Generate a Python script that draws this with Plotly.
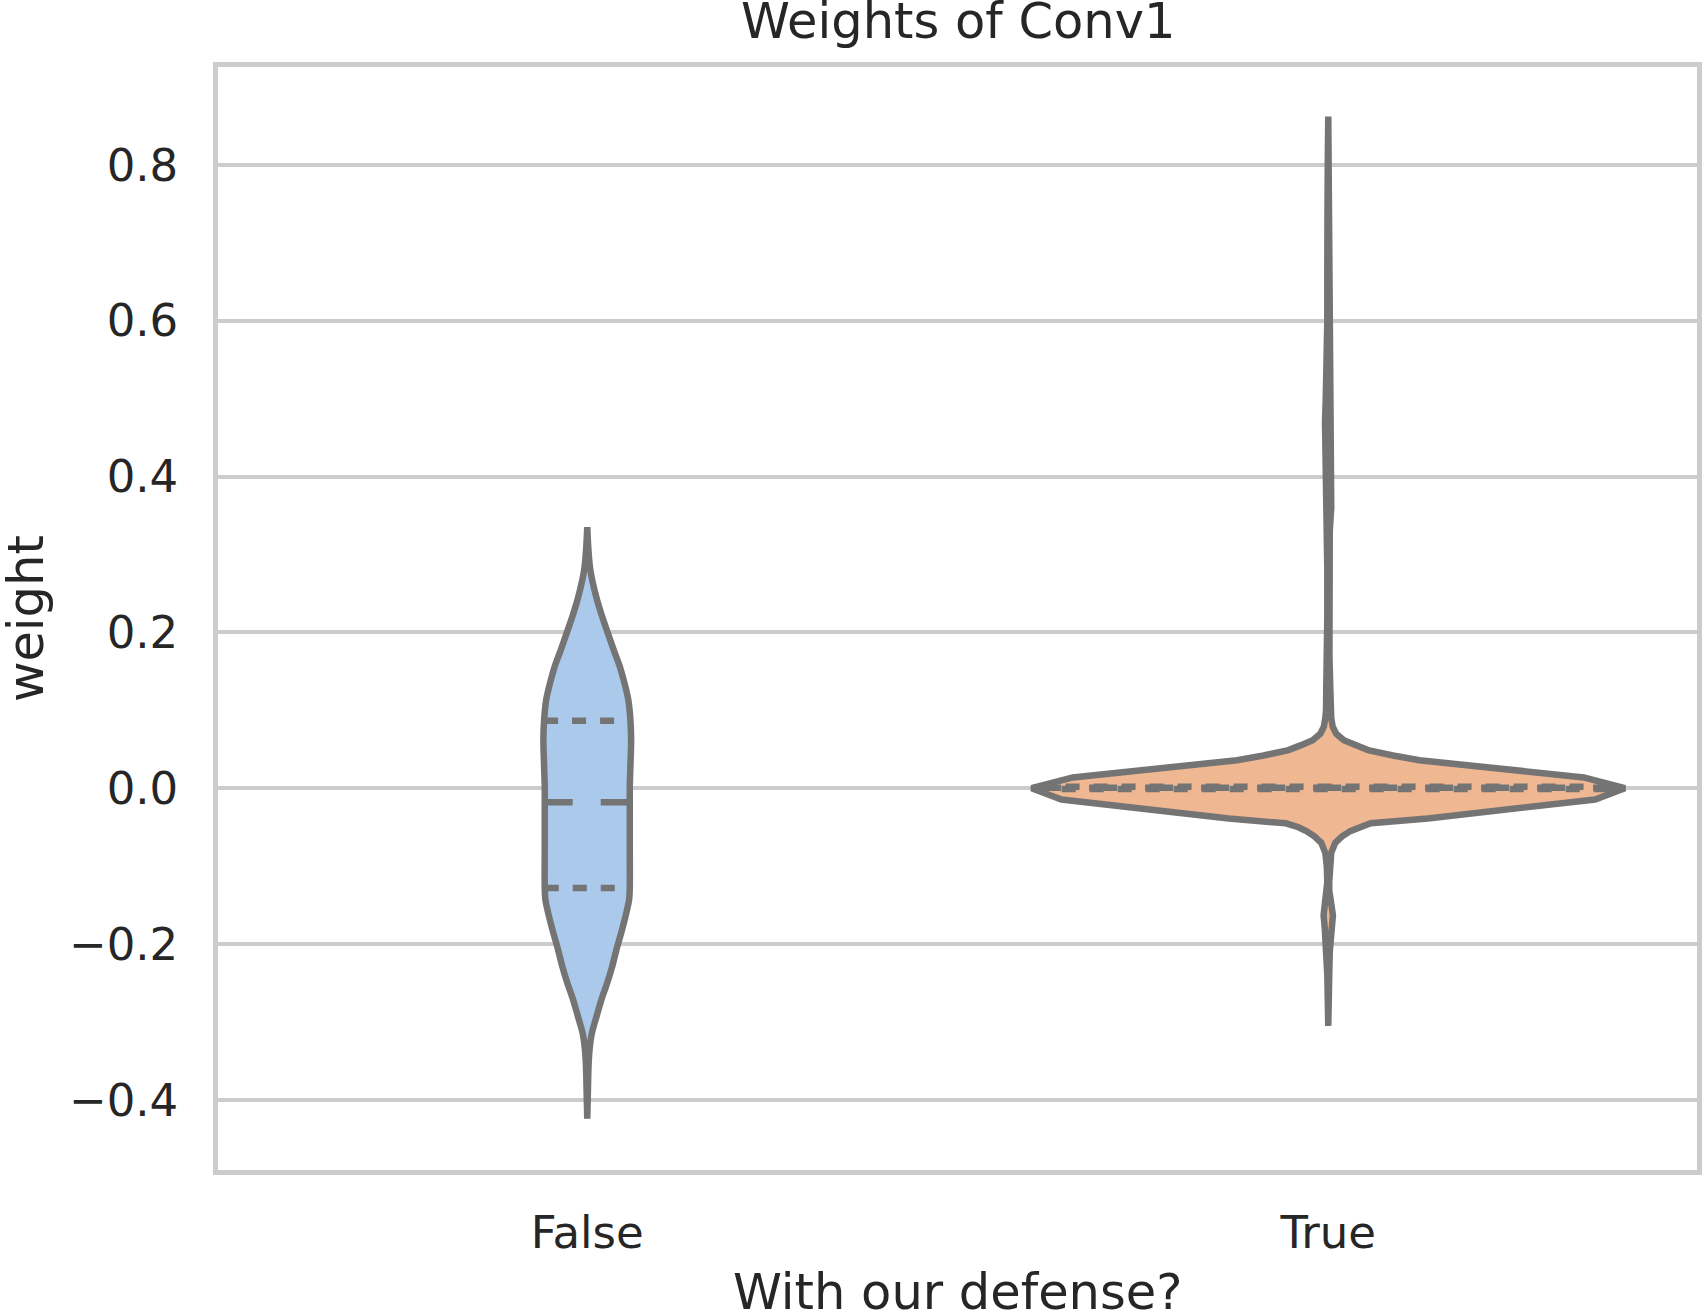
import numpy as np
import plotly.graph_objects as go

# ---------------- data ----------------
categories = ["False", "True"]

# violin outline for "False": weight value and half-width (category units)
false_vals = [0.335, 0.31, 0.284, 0.267, 0.241, 0.22, 0.199, 0.177, 0.156, 0.135,
              0.113, 0.088, 0.062, 0.028, 0.002, -0.036, -0.08, -0.126, -0.143,
              -0.165, -0.186, -0.207, -0.229, -0.25, -0.271, -0.293, -0.314, -0.3355,
              -0.357, -0.387, -0.424]
false_half = [0.0, 0.0013, 0.0036, 0.0067, 0.0134, 0.0202, 0.0278, 0.0359, 0.0440,
              0.0502, 0.0555, 0.0582, 0.0592, 0.0582, 0.0574, 0.0574, 0.0574, 0.0574,
              0.0565, 0.0515, 0.0457, 0.0394, 0.0336, 0.0269, 0.0192, 0.0125, 0.0063,
              0.0031, 0.0017, 0.0009, 0.0]

# violin outline for "True"
true_vals = [0.862, 0.80, 0.73, 0.70, 0.66, 0.60, 0.55, 0.50, 0.47, 0.43, 0.40, 0.36,
             0.33, 0.28, 0.22, 0.17, 0.13, 0.10, 0.09, 0.079, 0.07, 0.0617, 0.055,
             0.049, 0.042, 0.036, 0.0139, 0.0, -0.0144, -0.0388, -0.045, -0.05,
             -0.055, -0.062, -0.07, -0.083, -0.10, -0.12, -0.131, -0.145, -0.163,
             -0.18, -0.195, -0.21, -0.24, -0.27, -0.305]
true_half = [0.0, 0.0007, 0.0011, 0.0020, 0.0013, 0.0013, 0.0020, 0.0034, 0.0044,
             0.0034, 0.0034, 0.0040, 0.0020, 0.0013, 0.0013, 0.0016, 0.0027, 0.0030,
             0.0040, 0.0060, 0.0107, 0.0210, 0.0376, 0.0537, 0.0873, 0.1230, 0.3448,
             0.4003, 0.3600, 0.1343, 0.0572, 0.0403, 0.0296, 0.0183, 0.0094, 0.0040,
             0.0020, 0.0013, 0.0013, 0.0034, 0.0063, 0.0047, 0.0027, 0.0020, 0.0013,
             0.0007, 0.0]

# quartiles (q1, median, q3)
false_quartiles = [-0.128, -0.018, 0.0866]
true_quartiles = [-0.001, 0.0005, 0.002]

y_tickvals = [-0.4, -0.2, 0.0, 0.2, 0.4, 0.6, 0.8]
y_ticktext = ["\u22120.4", "\u22120.2", "0.0", "0.2", "0.4", "0.6", "0.8"]

# ---------------- styling ----------------
GRAY = "#747474"
GRID = "#cccccc"
TXT = "#262626"
FONT = "DejaVu Sans"
fills = ["#abc9ea", "#efb792"]
shapes = ["spline", "linear"]
LW = 6.5
FRAME_W = 4.5

fig = go.Figure()

profiles = [(false_vals, false_half, false_quartiles), (true_vals, true_half, true_quartiles)]
for i, (vals, half, quarts) in enumerate(profiles):
    v = np.array(vals)
    h = np.array(half)
    xs = np.concatenate([i + h, (i - h)[::-1], [i + h[0]]])
    ys = np.concatenate([v, v[::-1], [v[0]]])
    fig.add_trace(go.Scatter(x=xs, y=ys, mode="lines", fill="toself",
                             fillcolor=fills[i],
                             line=dict(color=GRAY, width=LW, shape=shapes[i], smoothing=0.8),
                             hoverinfo="skip", showlegend=False))
    # inner quartile lines
    order = np.argsort(v)
    for k, q in enumerate(quarts):
        w = float(np.interp(q, v[order], h[order]))
        dash = "28px,28px" if k == 1 else "14px,14px"
        fig.add_trace(go.Scatter(x=[i - w, i + w], y=[q, q], mode="lines",
                                 line=dict(color=GRAY, width=LW, dash=dash),
                                 hoverinfo="skip", showlegend=False))

fig.update_layout(
    width=1707, height=1312,
    margin=dict(l=217.5, r=5.5, t=66.5, b=142),
    paper_bgcolor="white", plot_bgcolor="white",
    font=dict(family=FONT, color=TXT, size=45),
    xaxis=dict(range=[-0.4983, 1.4976], tickvals=[0, 1], ticktext=categories,
               showgrid=False, zeroline=False, showline=True, mirror=True,
               linecolor=GRID, linewidth=FRAME_W, ticks="", ticklabelstandoff=19,
               tickfont=dict(size=45, family=FONT, color=TXT)),
    yaxis=dict(range=[-0.4899, 0.9256], tickvals=y_tickvals, ticktext=y_ticktext,
               showgrid=True, gridcolor=GRID, gridwidth=3.5, zeroline=False,
               showline=True, mirror=True, linecolor=GRID, linewidth=FRAME_W, ticks="",
               ticklabelstandoff=26, tickfont=dict(size=45, family=FONT, color=TXT)),
    annotations=[
        dict(text="Weights of Conv1", xref="paper", yref="paper", x=0.5, y=1.0415,
             xanchor="center", yanchor="middle", showarrow=False,
             font=dict(size=49.5, family=FONT, color=TXT)),
        dict(text="With our defense?", xref="paper", yref="paper", x=0.5, y=-0.1110,
             xanchor="center", yanchor="middle", showarrow=False,
             font=dict(size=49.5, family=FONT, color=TXT)),
        dict(text="weight", xref="paper", yref="paper", x=-0.1301, y=0.5,
             xanchor="center", yanchor="middle", textangle=-90, showarrow=False,
             font=dict(size=49.5, family=FONT, color=TXT)),
    ],
)

fig.write_html("out.html")
